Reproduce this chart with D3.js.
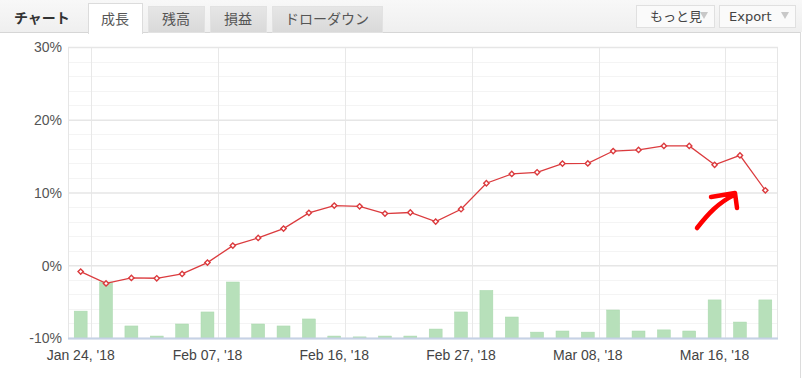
<!DOCTYPE html>
<html><head><meta charset="utf-8">
<script src="https://cdn.jsdelivr.net/npm/d3@7"></script>
<style>
html,body{margin:0;padding:0;background:#fff;}
svg{display:block;}
</style></head>
<body>
<svg id="chart" width="802" height="378"></svg>
<script>
// ---- data ----
const categories = ["Jan 24, '18","Jan 26, '18","Jan 30, '18","Feb 01, '18","Feb 05, '18","Feb 07, '18","Feb 08, '18","Feb 12, '18","Feb 13, '18","Feb 15, '18","Feb 16, '18","Feb 19, '18","Feb 21, '18","Feb 22, '18","Feb 26, '18","Feb 27, '18","Feb 28, '18","Mar 02, '18","Mar 05, '18","Mar 07, '18","Mar 08, '18","Mar 09, '18","Mar 12, '18","Mar 13, '18","Mar 14, '18","Mar 16, '18","Mar 19, '18","Mar 20, '18"];
const growth = [-0.87,-2.5,-1.74,-1.79,-1.19,0.37,2.7,3.76,5.04,7.2,8.2,8.1,7.1,7.25,6.0,7.7,11.27,12.55,12.78,13.97,14.0,15.7,15.85,16.4,16.4,13.8,15.1,10.3];
const bars = [9.6,20,4.3,0.7,5,9.3,20,5,4.3,6.8,0.7,0.4,0.7,0.7,3.2,9.3,17,7.5,2.1,2.5,2.1,10,2.5,2.9,2.5,13.6,5.7,13.6];
const yTicks = [-10,0,10,20,30];
const labelIdx = [0,5,10,15,20,25];
const tabs = ["成長","残高","損益","ドローダウン"];

const svg = d3.select("#chart");
const font = "'Liberation Sans', Arial, sans-serif";
const jfont = "'Noto Sans CJK JP', sans-serif";

// ---- header ----
const defs = svg.append("defs");
const hg = defs.append("linearGradient").attr("id","hg").attr("x1",0).attr("x2",0).attr("y1",0).attr("y2",1);
hg.append("stop").attr("offset",0).attr("stop-color","#f8f8f8");
hg.append("stop").attr("offset",1).attr("stop-color","#efefef");
const tg = defs.append("linearGradient").attr("id","tg").attr("x1",0).attr("x2",0).attr("y1",0).attr("y2",1);
tg.append("stop").attr("offset",0).attr("stop-color","#e6e6e6");
tg.append("stop").attr("offset",1).attr("stop-color","#d9d9d9");
svg.append("rect").attr("x",0).attr("y",0).attr("width",802).attr("height",32).attr("fill","url(#hg)");
svg.append("line").attr("x1",0).attr("x2",801).attr("y1",32.5).attr("y2",32.5).attr("stroke","#d6d6d6");
svg.append("line").attr("x1",800.5).attr("x2",800.5).attr("y1",32).attr("y2",378).attr("stroke","#dcdcdc");

svg.append("text").attr("x",14).attr("y",23).attr("font-family",jfont).attr("font-weight","bold")
  .attr("font-size",14).attr("fill","#333").text("チャート");

const tabX = [[88,142],[148,204],[210,266],[272,382]];
tabs.forEach((t,i)=>{
  const [a,b] = tabX[i];
  const active = i===0;
  svg.append("rect").attr("x",a+0.5).attr("y",active?3.5:6.5).attr("width",b-a).attr("height",active?30:26)
    .attr("fill",active?"#fff":"url(#tg)").attr("stroke",active?"#dcdcdc":"#e2e2e2");
  if(active) svg.append("rect").attr("x",a+1).attr("y",30).attr("width",b-a-1).attr("height",4).attr("fill","#fff");
  svg.append("text").attr("x",(a+b)/2).attr("y",24).attr("text-anchor","middle").attr("font-family",jfont)
    .attr("font-size",14).attr("fill","#555").text(t);
});

// buttons
[[636,714,"もっと見",704],[719,795,"Export",785]].forEach(([a,b,t,tri])=>{
  svg.append("rect").attr("x",a+0.5).attr("y",5.5).attr("width",b-a).attr("height",22).attr("fill","#fafafa").attr("stroke","#e0e0e0");
  svg.append("path").attr("d",`M${tri-4},12 L${tri+4},12 L${tri},19 Z`).attr("fill","#c8c8c8");
  svg.append("text").attr("x",t==="Export"?729:702).attr("y",21).attr("text-anchor",t==="Export"?"start":"end")
    .attr("font-family",t==="Export"?"'DejaVu Sans', Verdana, sans-serif":jfont).attr("font-size",13).attr("fill","#444").text(t);
});

// ---- chart ----
const L=68, R=778, T=47, B=338;
const x = d3.scaleBand().domain(categories).range([L,R]).paddingInner(0.49).paddingOuter(0.245);
const y = d3.scaleLinear().domain([-10,30]).range([B,T]);
const yb = d3.scaleLinear().domain([0,100]).range([B,B-280]);
const step = x.step();
const cx = c => x(c) + x.bandwidth()/2;

const g = svg.append("g");
// minor grid
d3.range(-10,31,2).filter(v=>v%10!==0).forEach(v=>{
  g.append("line").attr("x1",L).attr("x2",R).attr("y1",Math.round(y(v))+0.5).attr("y2",Math.round(y(v))+0.5).attr("stroke","#f4f4f4");
});
// vertical grid at category boundaries after labelled categories
labelIdx.map(i=>i+1).forEach(i=>{
  const gx = Math.round(cx(categories[i]) - step/2)-1.5;
  g.append("line").attr("x1",gx).attr("x2",gx).attr("y1",T).attr("y2",B).attr("stroke","#e8e8e8");
});
// major grid
const yAxis = d3.axisLeft(y).tickValues(yTicks).tickSize(-(R-L)).tickFormat(d=>d+"%").tickPadding(6);
const ya = g.append("g").attr("transform",`translate(${L},0)`).call(yAxis);
ya.select(".domain").remove();
ya.selectAll(".tick line").attr("stroke","#e6e6e6").attr("stroke-width",1.5);
ya.selectAll(".tick text").attr("font-family",font).attr("font-size",14).attr("fill","#555").attr("x",-6).attr("dy","0.35em");
// plot border left/right
g.append("line").attr("x1",L+0.5).attr("x2",L+0.5).attr("y1",T).attr("y2",B).attr("stroke","#e6e6e6");
g.append("line").attr("x1",R-0.5).attr("x2",R-0.5).attr("y1",T).attr("y2",B).attr("stroke","#e6e6e6");

// bars
g.selectAll("rect.bar").data(bars).join("rect").attr("class","bar")
  .attr("x",(d,i)=>x(categories[i])).attr("width",x.bandwidth())
  .attr("y",d=>yb(d)).attr("height",d=>B-yb(d))
  .attr("fill","#b7e0ba").attr("stroke","#a9d8ad").attr("stroke-width",0.5);

// x axis
const xAxis = d3.axisBottom(x).tickValues(labelIdx.map(i=>categories[i])).tickSize(0).tickPadding(12);
const xa = g.append("g").attr("transform",`translate(0,${B})`).call(xAxis);
xa.select(".domain").remove();
xa.selectAll(".tick text").attr("font-family",font).attr("font-size",14).attr("fill","#444");
g.append("line").attr("x1",L).attr("x2",R).attr("y1",B+0.5).attr("y2",B+0.5).attr("stroke","#c6d2e6").attr("stroke-width",2);

// line
const line = d3.line().x((d,i)=>cx(categories[i])).y(d=>y(d));
g.append("path").datum(growth).attr("d",line).attr("fill","none").attr("stroke","#db3b3e").attr("stroke-width",1.3);
g.selectAll("path.m").data(growth).join("path").attr("class","m")
  .attr("transform",(d,i)=>`translate(${cx(categories[i])},${y(d)}) rotate(45)`)
  .attr("d",d3.symbol(d3.symbolSquare,14)).attr("fill","#fff").attr("stroke","#db3b3e").attr("stroke-width",1.4);

// hand-drawn annotation arrow
svg.append("path").attr("d","M697,228 C708,214 718,203 734,195 M711,197 L735,193 L737,208")
  .attr("fill","none").attr("stroke","#f00").attr("stroke-width",4.5).attr("stroke-linecap","round").attr("stroke-linejoin","round");
</script>
</body></html>
